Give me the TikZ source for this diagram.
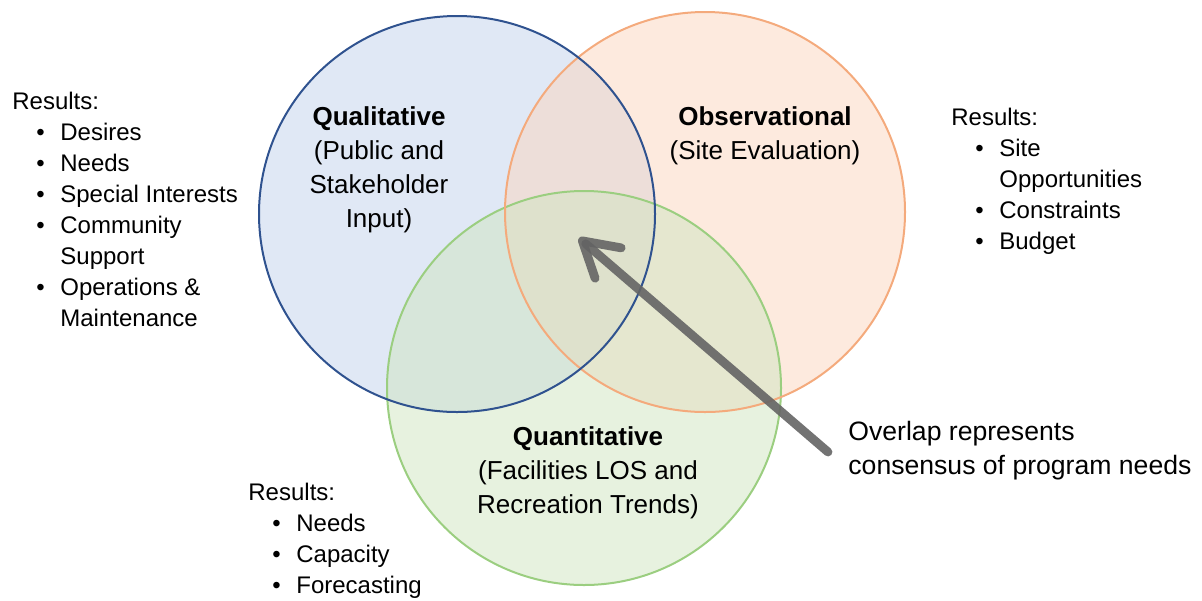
\documentclass[tikz,border=0pt]{standalone}
\usepackage{fontspec}
\setmainfont{Liberation Sans}
\usetikzlibrary{arrows.meta}
\definecolor{qualfill}{RGB}{193,209,235}
\definecolor{qualline}{RGB}{47,82,143}
\definecolor{obsfill}{RGB}{251,213,190}
\definecolor{obsline}{RGB}{244,170,124}
\definecolor{quanfill}{RGB}{207,229,192}
\definecolor{quanline}{RGB}{155,206,128}
\definecolor{arrowgray}{RGB}{100,100,100}
\newcommand{\bitem}[1]{\hspace*{12pt}\makebox[12pt][l]{\textbullet}#1}
\newcommand{\bcont}[1]{\hspace*{24pt}#1}
\tikzset{
  results/.style={anchor=north west, align=left, inner sep=0pt, font=\fontsize{12}{15.5}\selectfont},
  venntext/.style={anchor=north, align=center, inner sep=0pt, font=\fontsize{13}{17}\selectfont},
  venn/.style={line width=1pt},
}
\begin{document}
\begin{tikzpicture}[x=0.5pt, y=-0.5pt]
  \useasboundingbox (0,0) rectangle (1202,600);
  \fill[qualfill, fill opacity=0.5] (457,214) circle[radius=99pt];
  \fill[obsfill, fill opacity=0.5] (705,212) circle[radius=100pt];
  \fill[quanfill, fill opacity=0.5] (584,388) circle[radius=98.5pt];
  \draw[venn, quanline] (584,388) circle[radius=98.5pt];
  \draw[venn, obsline] (705,212) circle[radius=100pt];
  \draw[venn, qualline] (457,214) circle[radius=99pt];
  \node[venntext] (qual) at (379,106) {\textbf{Qualitative}\\(Public and\\Stakeholder\\Input)};
  \node[venntext] (obs) at (765,106) {\textbf{Observational}\\(Site Evaluation)};
  \node[venntext] (quan) at (588,426) {\textbf{Quantitative}\\(Facilities LOS and\\Recreation Trends)};
  \node[results] (qualres) at (12,92) {Results:\\\bitem{Desires}\\\bitem{Needs}\\\bitem{Special Interests}\\\bitem{Community}\\\bcont{Support}\\\bitem{Operations \&}\\\bcont{Maintenance}};
  \node[results] (obsres) at (951,108) {Results:\\\bitem{Site}\\\bcont{Opportunities}\\\bitem{Constraints}\\\bitem{Budget}};
  \node[results] (quanres) at (248,483) {Results:\\\bitem{Needs}\\\bitem{Capacity}\\\bitem{Forecasting}};
  \node[anchor=north west, align=left, inner sep=0pt, font=\fontsize{13.3}{17}\selectfont] (overlap) at (848,421) {Overlap represents\\consensus of program needs};
  \coordinate (tail) at (828,452);
  \coordinate (center) at (579,238);
  \draw[arrowgray, opacity=0.9, line width=4.4pt, line cap=round, -{Straight Barb[length=17pt, width=20pt, round]}] (tail) -- (center);
\end{tikzpicture}
\end{document}
